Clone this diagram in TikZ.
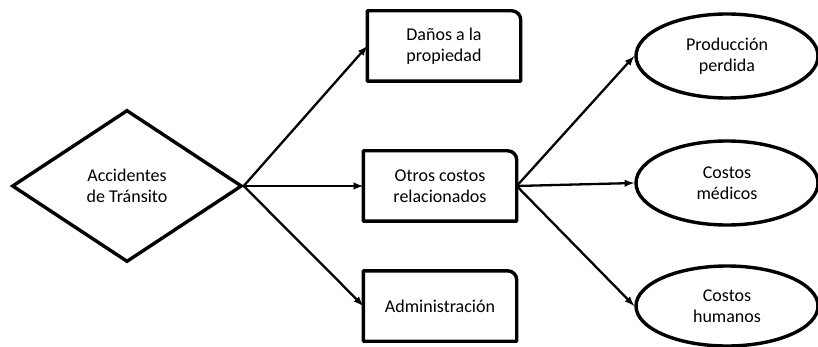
\documentclass[tikz,border=0pt]{standalone}
\usepackage{fontspec}
\setmainfont{Carlito}
\usepackage{tikz}
\usetikzlibrary{arrows,calc,positioning,shapes.geometric}
\tikzset{%
	decision/.style  = {draw, diamond, line width=3.4pt, minimum width=230pt, minimum height=152pt, inner sep=0pt, align=center}, % Origen
	block/.style     = {rectangle, minimum width=153pt, minimum height=70pt, align=center}, % Rubro
	cost/.style      = {draw, ellipse, line width=3.4pt, minimum width=182pt, minimum height=84pt, inner sep=0pt, align=center}, % Costo
	blockline/.style = {line width=3.4pt, line join=round}, % Borde
	link/.style      = {->, line width=2.3pt}, % Flecha
}
\begin{document}
\begin{tikzpicture}[x=1pt, y=-1pt, >=latex, font=\fontsize{18}{21.5}\selectfont]
	\useasboundingbox (0,0) rectangle (818,347);
	\node[decision] (acc) at (127,186) {Accidentes\\de Tránsito};
	\node[block, right of=acc, node distance=313pt] (otros) {Otros costos\\relacionados};
	\node[block, above of=otros, node distance=140pt, xshift=4pt] (danos) {Daños a la\\propiedad};
	\node[block, below of=otros, node distance=120pt] (admin) {Administración};
	\node[cost, right of=otros, node distance=287pt, yshift=3pt] (medicos) {Costos\\médicos};
	\node[cost, above of=medicos, node distance=127pt] (prod) {Producción\\perdida};
	\node[cost, below of=medicos, node distance=123pt, minimum height=80pt] (humanos) {Costos\\humanos};
	\draw[blockline] (danos.south west) -- (danos.north west) -- ([xshift=-9pt]danos.north east) arc[start angle=90, end angle=0, radius=9pt] -- (danos.south east) -- cycle;
	\draw[blockline] (otros.south west) -- (otros.north west) -- ([xshift=-9pt]otros.north east) arc[start angle=90, end angle=0, radius=9pt] -- (otros.south east) -- cycle;
	\draw[blockline] (admin.south west) -- (admin.north west) -- ([xshift=-9pt]admin.north east) arc[start angle=90, end angle=0, radius=9pt] -- (admin.south east) -- cycle;
	\draw[link] (acc.east) -- (danos.west);
	\draw[link] (acc.east) -- (otros.west);
	\draw[link] (acc.east) -- (admin.west);
	\draw[link] (otros.east) -- (prod.west);
	\draw[link] (otros.east) -- (medicos.west);
	\draw[link] (otros.east) -- (humanos.west);
\end{tikzpicture}
\end{document}
